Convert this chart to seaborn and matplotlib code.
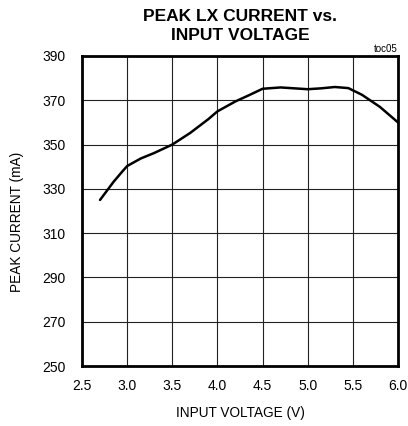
import matplotlib
matplotlib.use("Agg")
import matplotlib.pyplot as plt
import seaborn as sns
import pandas as pd

voltage = [2.7, 2.85, 2.95, 3.0, 3.15, 3.3, 3.5, 3.7, 3.9, 4.0, 4.2, 4.35,
           4.5, 4.7, 4.85, 5.0, 5.15, 5.3, 5.45, 5.6, 5.8, 6.0]
current = [325, 333.2, 338, 340.3, 343.7, 346.2, 350, 355.3, 361.5, 365, 369.5, 372.3,
           375.2, 375.8, 375.4, 375, 375.4, 376, 375.5, 372.5, 367, 360]
x_ticks = [2.5, 3.0, 3.5, 4.0, 4.5, 5.0, 5.5, 6.0]
y_ticks = [250, 270, 290, 310, 330, 350, 370, 390]

sns.set_theme(style="white")
plt.rcParams['font.family'] = ['Liberation Sans', 'DejaVu Sans']
plt.rcParams['text.color'] = 'black'
plt.rcParams['axes.labelcolor'] = 'black'

df = pd.DataFrame({"v": voltage, "i": current})
fig = plt.figure(figsize=(4.08, 4.26), dpi=100)
ax = fig.add_axes([82/408, 1-366/426, 316/408, 310/426])
sns.lineplot(data=df, x="v", y="i", ax=ax, color="black", linewidth=1.8,
             solid_joinstyle="round", solid_capstyle="round")
ax.set_xlim(2.5, 6.0)
ax.set_ylim(250, 390)
ax.set_xticks(x_ticks)
ax.set_xticklabels([f"{t:.1f}" for t in x_ticks])
ax.set_yticks(y_ticks)
ax.set_yticklabels([str(t) for t in y_ticks])
ax.grid(True, color="#222222", linewidth=0.8)
ax.set_axisbelow(True)
for s in ax.spines.values():
    s.set_visible(True)
    s.set_color("black")
    s.set_linewidth(2.0)
ax.tick_params(axis="both", length=0, labelsize=10, colors="black")
ax.tick_params(axis="x", pad=9)
ax.tick_params(axis="y", pad=12)
ax.set_xlabel("INPUT VOLTAGE (V)", fontsize=9.8, color="black")
ax.xaxis.set_label_coords(0.5, -(413 - 366) / 310, transform=ax.transAxes)
ax.set_ylabel("PEAK CURRENT (mA)", fontsize=9.8, color="black")
ax.yaxis.set_label_coords(-(82 - 17.5) / 316, (366 - 222) / 310, transform=ax.transAxes)
ax.yaxis.label.set_verticalalignment("center")
ax.xaxis.label.set_verticalalignment("center")
fig.text(240/408, 1-26/426, "PEAK LX CURRENT vs.\nINPUT VOLTAGE", ha="center", va="center",
         fontsize=12.5, fontweight="bold", linespacing=1.3, color="black")
fig.text(398/408, 1-51.5/426, "toc05", ha="right", va="baseline", fontsize=7, color="black")
fig.savefig("out.png", dpi=100)
